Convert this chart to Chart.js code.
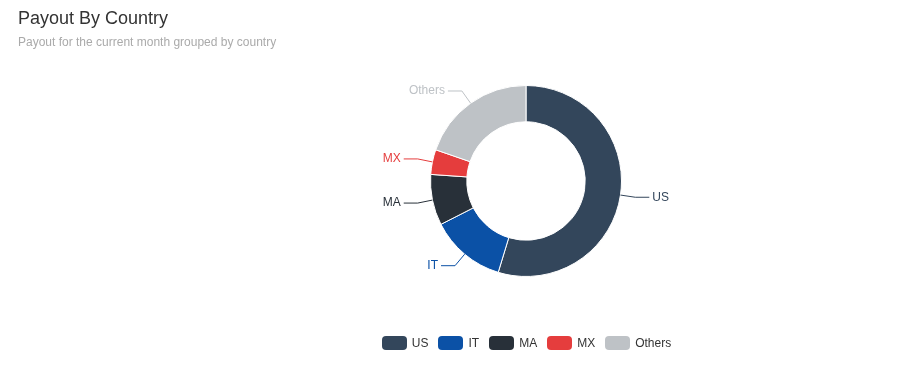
<!DOCTYPE html>
<html>
<head>
<meta charset="utf-8">
<script src="https://cdn.jsdelivr.net/npm/chart.js@4"></script>
<style>
  html, body { margin: 0; padding: 0; background: #fff; }
  #wrap { position: relative; width: 903px; height: 371px; font-family: "Liberation Sans", Arial, sans-serif; }
  #title { position: absolute; left: 18px; top: 8px; font-size: 18px; color: #333; }
  #subtitle { position: absolute; left: 18px; top: 35px; font-size: 12px; color: #aaa; }
  canvas { position: absolute; left: 0; top: 0; }
  #legend { position: absolute; left: 226px; width: 601px; top: 336px; display: flex; justify-content: center; font-size: 12px; color: #333; }
  #legend .item { display: flex; align-items: center; margin: 0 5px; height: 14px; }
  #legend .box { width: 25px; height: 14px; border-radius: 4px; margin-right: 5px; }
</style>
</head>
<body>
<div id="wrap">
  <canvas id="payoutChart" width="903" height="371"></canvas>
  <div id="title">Payout By Country</div>
  <div id="subtitle">Payout for the current month grouped by country</div>
  <div id="legend"></div>
</div>
<script>
// data
const countries = ['US', 'IT', 'MA', 'MX', 'Others'];
const payouts = [547, 128, 86, 42, 197];
const sliceColors = ['#33465b', '#0b51a6', '#283039', '#e53d3d', '#bec2c6'];

// leader lines + outside labels
const outsideLabels = {
  id: 'outsideLabels',
  afterDatasetsDraw(chart) {
    const ctx = chart.ctx;
    const meta = chart.getDatasetMeta(0);
    ctx.save();
    ctx.font = '12px "Liberation Sans", Arial, sans-serif';
    ctx.textBaseline = 'middle';
    meta.data.forEach((arc, i) => {
      const mid = (arc.startAngle + arc.endAngle) / 2;
      const r = arc.outerRadius;
      const x0 = arc.x + Math.cos(mid) * r;
      const y0 = arc.y + Math.sin(mid) * r;
      const x1 = arc.x + Math.cos(mid) * (r + 15);
      const y1 = arc.y + Math.sin(mid) * (r + 15);
      const right = Math.cos(mid) >= 0;
      const x2 = x1 + (right ? 14 : -14);
      ctx.strokeStyle = sliceColors[i];
      ctx.lineWidth = 1;
      ctx.beginPath();
      ctx.moveTo(x0, y0);
      ctx.lineTo(x1, y1);
      ctx.lineTo(x2, y1);
      ctx.stroke();
      ctx.fillStyle = sliceColors[i];
      ctx.textAlign = right ? 'left' : 'right';
      ctx.fillText(countries[i], x2 + (right ? 3 : -3), y1);
    });
    ctx.restore();
  }
};

const chart = new Chart(document.getElementById('payoutChart').getContext('2d'), {
  type: 'doughnut',
  data: {
    labels: countries,
    datasets: [{
      data: payouts,
      backgroundColor: sliceColors,
      borderColor: '#fff',
      borderWidth: 1,
      hoverOffset: 0
    }]
  },
  options: {
    responsive: false,
    animation: false,
    cutout: '62%',
    layout: { padding: { top: 85, left: 430, right: 281, bottom: 94 } },
    plugins: {
      tooltip: { enabled: false },
      legend: { display: false }
    }
  },
  plugins: [outsideLabels]
});

// html legend
const legendEl = document.getElementById('legend');
countries.forEach((name, i) => {
  const item = document.createElement('div');
  item.className = 'item';
  item.innerHTML = '<span class="box" style="background:' + sliceColors[i] + '"></span><span>' + name + '</span>';
  legendEl.appendChild(item);
});
</script>
</body>
</html>
